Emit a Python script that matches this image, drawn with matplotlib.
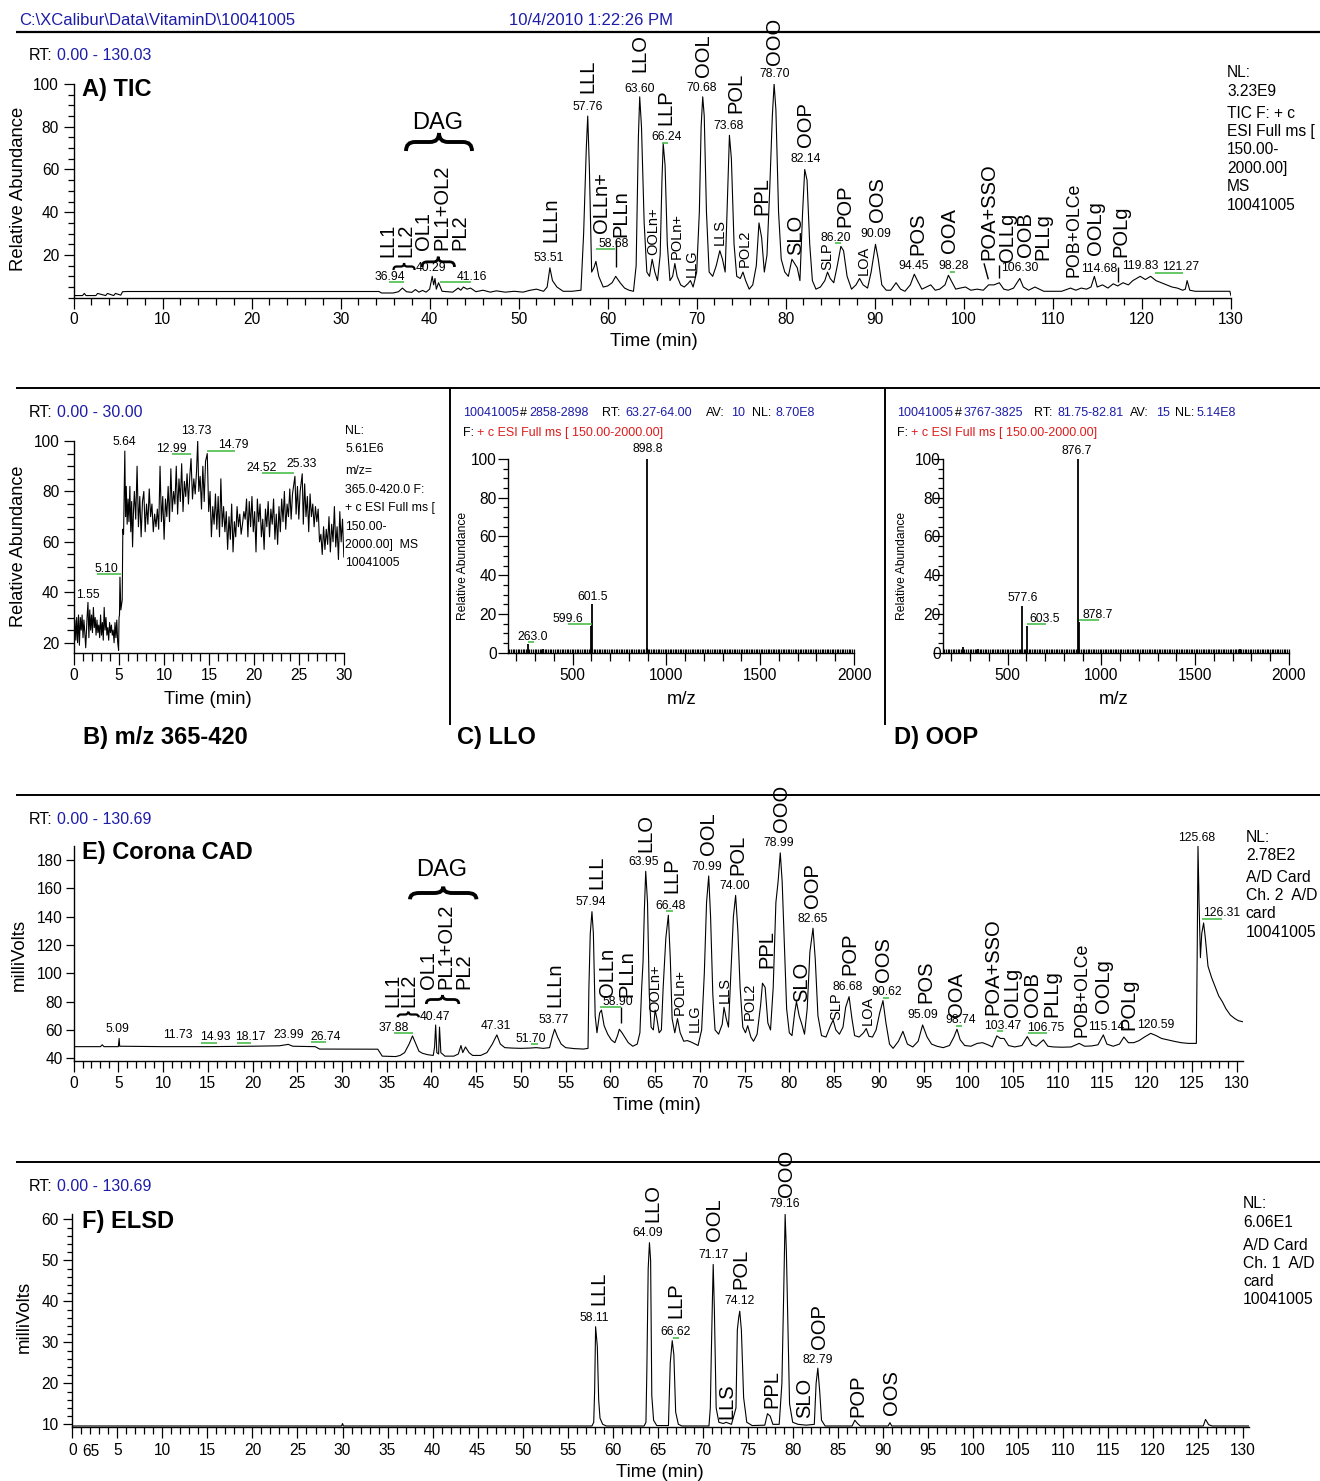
import matplotlib
matplotlib.use("Agg")
import matplotlib.pyplot as plt
from matplotlib.lines import Line2D
from matplotlib.path import Path
from matplotlib.patches import PathPatch
from matplotlib.ticker import MultipleLocator

plt.rcParams["font.family"] = ["Liberation Sans", "DejaVu Sans"]

W, H = 1320, 1481
BLUE = "#1c1ca8"
RED = "#dd1c1c"
GREEN = "#3cb83c"

# ---------------- data ----------------
# A) TIC chromatogram (time min, relative abundance)
tic_time = [0.0, 1.0, 1.2, 1.4, 2.5, 2.7, 3.6, 3.8, 4.5, 4.7,
            5.3, 5.5, 6.0, 34.3, 34.6, 35.9, 36.5, 36.94, 37.4, 38.0,
            38.4, 38.8, 39.2, 39.6, 40.0, 40.29, 40.45, 40.6, 40.75, 41.0,
            41.4, 42.0, 42.6, 43.2, 43.5, 43.8, 44.2, 44.6, 45.2, 46.0,
            46.8, 47.5, 48.5, 49.5, 50.5, 51.2, 52.0, 52.8, 53.2, 53.51,
            53.8, 54.3, 55.0, 56.0, 57.0, 57.3, 57.6, 57.76, 57.95, 58.2,
            58.45, 58.68, 59.0, 59.5, 60.0, 60.5, 60.9, 61.4, 61.9, 62.4,
            62.9, 63.2, 63.45, 63.6, 63.8, 64.1, 64.4, 64.7, 65.0, 65.3,
            65.6, 65.9, 66.1, 66.24, 66.45, 66.7, 67.0, 67.3, 67.55, 67.8,
            68.2, 68.6, 69.0, 69.3, 69.6, 70.0, 70.3, 70.5, 70.68, 70.85,
            71.1, 71.4, 71.8, 72.2, 72.6, 72.9, 73.2, 73.45, 73.68, 73.9,
            74.2, 74.5, 74.9, 75.2, 75.5, 75.9, 76.3, 76.7, 77.0, 77.3,
            77.6, 77.9, 78.2, 78.5, 78.7, 78.9, 79.2, 79.5, 79.9, 80.3,
            80.7, 81.0, 81.3, 81.6, 81.9, 82.14, 82.4, 82.7, 83.0, 83.4,
            83.9, 84.4, 84.7, 85.0, 85.4, 85.8, 86.2, 86.5, 86.9, 87.4,
            87.9, 88.3, 88.7, 89.2, 89.6, 90.09, 90.4, 90.8, 91.3, 91.8,
            92.4, 92.9, 93.4, 94.0, 94.45, 94.8, 95.3, 95.8, 96.3, 96.8,
            97.3, 97.9, 98.28, 98.6, 99.1, 99.6, 100.2, 100.8, 101.5, 102.2,
            102.8, 103.4, 104.0, 104.5, 105.0, 105.6, 106.3, 106.7, 107.3, 108.0,
            108.5, 109.0, 110.0, 111.0, 112.0, 112.6, 113.2, 113.8, 114.3, 114.68,
            115.0, 115.6, 116.2, 116.8, 117.3, 117.9, 118.5, 119.0, 119.83, 120.4,
            121.0, 121.6, 122.2, 122.8, 123.4, 124.0, 124.6, 124.9, 125.1, 125.4,
            126.0, 127.0, 128.0, 129.0, 129.9, 130.03]
tic_abund = [1.0, 1.0, 2.0, 1.0, 1.0, 2.0, 1.0, 2.0, 1.0, 2.0,
             1.2, 2.8, 2.9, 2.9, 2.2, 2.2, 2.8, 4.5, 2.8, 2.5,
             3.8, 2.6, 3.4, 2.6, 4.0, 10.0, 6.0, 9.0, 4.0, 7.0,
             3.0, 2.8, 2.6, 4.5, 3.5, 5.0, 4.0, 4.5, 2.8, 3.5,
             2.6, 3.2, 2.6, 3.0, 2.6, 3.4, 4.0, 3.0, 5.0, 14.0,
             8.0, 5.0, 3.0, 3.0, 3.5, 30.0, 70.0, 85.0, 60.0, 12.0,
             14.0, 17.0, 10.0, 5.0, 5.5, 7.0, 10.0, 7.0, 4.5, 3.5,
             3.0, 15.0, 75.0, 94.0, 80.0, 35.0, 12.0, 10.0, 18.0, 12.0,
             8.0, 20.0, 55.0, 72.0, 62.0, 25.0, 8.0, 10.0, 16.0, 10.0,
             6.0, 5.0, 6.5, 8.0, 5.0, 12.0, 40.0, 80.0, 94.0, 85.0,
             40.0, 12.0, 10.0, 15.0, 22.0, 18.0, 12.0, 45.0, 76.0, 65.0,
             25.0, 10.0, 9.0, 12.0, 8.0, 4.0, 6.0, 15.0, 35.0, 28.0,
             12.0, 20.0, 50.0, 85.0, 100.0, 88.0, 40.0, 18.0, 12.0, 10.0,
             18.0, 16.0, 14.0, 8.0, 40.0, 60.0, 55.0, 25.0, 8.0, 4.0,
             5.0, 8.0, 12.0, 9.0, 7.0, 15.0, 24.0, 22.0, 10.0, 4.0,
             6.0, 9.0, 6.0, 4.5, 12.0, 25.0, 18.0, 6.0, 3.5, 3.5,
             7.0, 4.0, 3.0, 6.0, 11.0, 8.0, 4.0, 5.0, 6.0, 3.5,
             4.0, 6.0, 10.5, 8.0, 4.0, 4.5, 5.0, 3.5, 4.0, 3.5,
             6.0, 6.0, 7.0, 4.0, 3.5, 4.5, 9.0, 5.0, 3.5, 5.0,
             4.0, 3.0, 3.0, 3.0, 4.5, 3.5, 4.5, 4.0, 5.0, 10.0,
             5.0, 6.0, 4.5, 6.5, 5.5, 7.0, 6.0, 8.0, 10.0, 8.5,
             10.0, 8.0, 7.0, 6.0, 5.0, 4.5, 3.5, 4.0, 8.0, 3.5,
             3.0, 3.0, 3.0, 3.0, 3.0, 1.0]

# B) extracted ion chromatogram m/z 365-420
xic_time = [0.0, 0.1, 0.2, 0.3, 0.4, 0.5, 0.6, 0.7, 0.8, 0.9,
            1.0, 1.1, 1.2, 1.3, 1.45, 1.55, 1.65, 1.75, 1.85, 1.95,
            2.05, 2.15, 2.25, 2.35, 2.45, 2.55, 2.65, 2.75, 2.85, 2.95,
            3.05, 3.15, 3.25, 3.35, 3.45, 3.55, 3.65, 3.75, 3.85, 3.95,
            4.05, 4.15, 4.25, 4.35, 4.45, 4.55, 4.65, 4.75, 4.85, 4.95,
            5.0, 5.05, 5.1, 5.2, 5.35, 5.42, 5.5, 5.64, 5.72, 5.8,
            5.9, 6.0, 6.1, 6.2, 6.3, 6.4, 6.5, 6.6, 6.7, 6.85,
            7.0, 7.15, 7.3, 7.45, 7.6, 7.75, 7.9, 8.05, 8.2, 8.35,
            8.5, 8.65, 8.8, 8.95, 9.1, 9.25, 9.4, 9.55, 9.7, 9.85,
            10.0, 10.15, 10.3, 10.45, 10.6, 10.75, 10.9, 11.05, 11.2, 11.35,
            11.5, 11.65, 11.8, 11.95, 12.1, 12.25, 12.4, 12.55, 12.7, 12.85,
            12.99, 13.15, 13.3, 13.45, 13.6, 13.73, 13.85, 14.0, 14.15, 14.3,
            14.45, 14.6, 14.79, 14.95, 15.1, 15.25, 15.4, 15.55, 15.7, 15.85,
            16.0, 16.15, 16.3, 16.45, 16.6, 16.75, 16.9, 17.05, 17.2, 17.35,
            17.5, 17.65, 17.8, 17.95, 18.1, 18.25, 18.4, 18.55, 18.7, 18.85,
            19.0, 19.15, 19.3, 19.45, 19.6, 19.75, 19.9, 20.05, 20.2, 20.35,
            20.5, 20.65, 20.8, 20.95, 21.1, 21.25, 21.4, 21.55, 21.7, 21.85,
            22.0, 22.15, 22.3, 22.45, 22.6, 22.75, 22.9, 23.05, 23.2, 23.35,
            23.5, 23.65, 23.8, 23.95, 24.1, 24.25, 24.52, 24.65, 24.8, 24.95,
            25.1, 25.33, 25.45, 25.6, 25.75, 25.9, 26.05, 26.2, 26.35, 26.5,
            26.65, 26.8, 26.95, 27.1, 27.25, 27.4, 27.55, 27.7, 27.85, 28.0,
            28.15, 28.3, 28.45, 28.6, 28.75, 28.9, 29.05, 29.2, 29.35, 29.5,
            29.65, 29.8, 29.95]
xic_abund = [17, 29, 21, 30, 20, 31, 19, 30, 25, 31,
             22, 29, 24, 18, 30, 36, 22, 33, 25, 31,
             24, 34, 26, 30, 23, 29, 24, 27, 22, 31,
             23, 28, 21, 34, 25, 30, 23, 26, 21, 28,
             24, 27, 23, 25, 20, 28, 22, 29, 20, 17,
             30, 31, 46, 33, 37, 65, 63, 96, 70, 82,
             67, 77, 68, 82, 64, 76, 58, 72, 80, 69,
             90, 66, 78, 62, 76, 80, 64, 75, 67, 81,
             70, 75, 64, 71, 66, 73, 65, 90, 68, 78,
             61, 77, 70, 82, 68, 89, 72, 80, 75, 90,
             71, 85, 76, 91, 72, 84, 78, 87, 75, 86,
             93, 77, 85, 79, 88, 100, 80, 86, 73, 90,
             76, 92, 95, 72, 80, 62, 74, 67, 79, 65,
             78, 62, 85, 66, 74, 64, 72, 57, 70, 61,
             75, 56, 68, 62, 74, 66, 71, 63, 67, 72,
             69, 77, 62, 76, 66, 78, 64, 72, 56, 77,
             68, 75, 62, 69, 57, 73, 66, 76, 62, 73,
             67, 77, 61, 71, 59, 74, 64, 77, 68, 80,
             65, 75, 70, 81, 69, 79, 86, 71, 82, 69,
             80, 87, 67, 83, 70, 78, 64, 79, 70, 75,
             66, 74, 68, 73, 60, 63, 55, 66, 57, 65,
             59, 70, 56, 67, 60, 74, 58, 66, 53, 72,
             60, 69, 54]

# C) and D) mass spectra (m/z, relative abundance)
llo_mz = [263.0, 340.0, 599.6, 601.5, 895.0, 898.8]
llo_int = [4.5, 2.0, 13.8, 25.0, 2.5, 100.0]
oop_mz = [263.0, 340.0, 577.6, 603.5, 876.7, 878.7, 1740.0]
oop_int = [3.0, 2.0, 24.0, 13.8, 100.0, 15.7, 2.0]

# E) Corona CAD trace (time min, mV)
cad_time = [0.0, 3.0, 3.2, 3.4, 5.0, 5.09, 5.15, 10.0, 15.0, 20.0,
            23.0, 23.99, 24.5, 27.0, 27.5, 34.0, 34.5, 36.0, 36.5, 37.0,
            37.5, 37.88, 38.2, 38.6, 39.0, 39.6, 40.2, 40.35, 40.47, 40.6,
            40.8, 40.9, 41.05, 41.5, 42.5, 43.0, 43.3, 43.5, 43.8, 44.2,
            44.6, 45.5, 46.2, 46.8, 47.31, 47.7, 48.2, 49.0, 50.0, 51.0,
            51.7, 52.5, 53.2, 53.5, 53.77, 54.1, 54.5, 55.0, 56.0, 57.0,
            57.5, 57.6, 57.75, 57.94, 58.1, 58.3, 58.5, 58.8, 59.0, 59.3,
            59.7, 60.1, 60.5, 60.8, 61.0, 61.3, 61.6, 62.0, 62.5, 63.0,
            63.3, 63.5, 63.65, 63.8, 63.95, 64.15, 64.35, 64.55, 64.8, 65.0,
            65.2, 65.45, 65.7, 65.9, 66.2, 66.48, 66.7, 66.9, 67.2, 67.5,
            67.8, 68.2, 68.6, 69.0, 69.5, 69.8, 70.2, 70.5, 70.75, 70.99,
            71.2, 71.45, 71.7, 72.1, 72.5, 72.7, 72.95, 73.2, 73.5, 73.75,
            74.0, 74.25, 74.5, 74.8, 75.1, 75.35, 75.7, 76.0, 76.4, 76.8,
            77.0, 77.3, 77.6, 77.9, 78.2, 78.5, 78.75, 78.99, 79.2, 79.45,
            79.7, 80.0, 80.3, 80.6, 80.8, 81.1, 81.4, 81.7, 82.0, 82.3,
            82.65, 82.9, 83.2, 83.6, 84.1, 84.6, 84.9, 85.2, 85.6, 86.0,
            86.3, 86.68, 87.0, 87.3, 87.8, 88.3, 88.6, 88.9, 89.3, 89.7,
            90.1, 90.47, 90.8, 91.2, 91.6, 92.2, 92.7, 93.2, 93.8, 94.4,
            94.9, 95.4, 95.9, 96.5, 97.2, 97.9, 98.4, 98.74, 99.1, 99.6,
            100.3, 101.0, 101.6, 102.2, 102.7, 103.2, 103.6, 104.0, 104.5, 105.2,
            106.0, 106.6, 107.1, 107.6, 108.4, 108.9, 109.5, 110.5, 111.5, 112.4,
            113.0, 113.8, 114.5, 115.1, 115.5, 116.2, 116.9, 117.4, 117.9, 118.5,
            119.1, 119.7, 120.4, 121.0, 121.6, 122.3, 123.0, 123.8, 124.6, 125.5,
            125.6, 125.68, 125.8, 125.95, 126.1, 126.31, 126.5, 126.8, 127.2, 127.6,
            128.0, 128.4, 128.8, 129.3, 129.8, 130.2, 130.69]
cad_mv = [48.2, 48.2, 49.5, 48.2, 48.2, 54.0, 48.5, 48.2, 48.2, 48.5,
          48.8, 49.8, 48.5, 48.2, 46.5, 46.4, 41.5, 41.2, 42.0, 44.0,
          50.0, 55.8, 51.0, 45.0, 43.5, 42.5, 42.0, 48.0, 63.5, 44.0,
          43.0, 62.0, 44.0, 41.5, 41.5, 43.0, 49.0, 44.0, 48.0, 44.0,
          42.0, 42.0, 44.0, 50.0, 56.5, 50.0, 47.5, 47.2, 47.0, 47.2,
          47.5, 47.0, 47.5, 55.0, 60.5, 55.0, 50.0, 47.5, 46.8, 46.5,
          47.0, 90.0, 128.0, 143.5, 128.0, 70.0, 58.0, 72.0, 74.0, 63.0,
          57.0, 53.0, 51.0, 56.0, 60.5, 58.0, 55.0, 51.0, 48.5, 50.0,
          58.0, 90.0, 108.0, 145.0, 172.0, 150.0, 85.0, 62.0, 60.0, 74.0,
          68.0, 58.0, 60.0, 90.0, 125.0, 141.0, 110.0, 68.0, 58.0, 68.0,
          58.0, 52.0, 52.5, 51.5, 50.0, 49.0, 60.0, 100.0, 150.0, 168.7,
          140.0, 85.0, 60.0, 57.0, 64.0, 76.0, 68.0, 62.0, 105.0, 140.0,
          155.0, 130.0, 90.0, 62.0, 58.0, 63.0, 55.0, 52.0, 57.0, 78.0,
          93.0, 90.0, 65.0, 60.0, 90.0, 150.0, 165.0, 185.0, 165.0, 120.0,
          75.0, 58.0, 56.0, 72.0, 80.0, 70.0, 64.0, 57.0, 75.0, 115.0,
          131.8, 110.0, 70.0, 56.0, 55.0, 63.0, 67.0, 60.0, 57.0, 62.0,
          76.0, 83.5, 68.0, 56.0, 55.0, 58.0, 61.0, 55.5, 55.0, 60.0,
          72.0, 80.7, 65.0, 50.0, 47.0, 52.0, 59.0, 50.0, 48.0, 52.0,
          63.5, 55.0, 50.0, 48.5, 47.5, 49.0, 55.0, 60.5, 53.0, 49.0,
          48.5, 50.5, 51.0, 49.5, 48.0, 55.8, 54.0, 54.0, 49.0, 48.0,
          49.0, 55.3, 50.0, 48.5, 53.0, 48.5, 48.0, 47.8, 48.0, 50.5,
          48.5, 48.7, 49.5, 56.5, 50.0, 48.5, 50.0, 55.0, 51.0, 51.0,
          52.5, 55.0, 57.6, 56.0, 54.0, 53.0, 52.0, 51.0, 50.5, 50.5,
          120.0, 190.0, 150.0, 111.0, 128.0, 135.5, 125.0, 105.0, 97.0, 90.5,
          84.0, 80.0, 75.0, 70.5, 68.0, 66.5, 65.8]

# F) ELSD trace (time min, mV)
elsd_time = [0.0, 29.9, 30.0, 30.1, 57.7, 57.9, 58.0, 58.11, 58.3, 58.45,
             58.6, 58.9, 59.3, 63.5, 63.7, 63.8, 63.95, 64.09, 64.22, 64.35,
             64.55, 64.9, 66.2, 66.4, 66.62, 66.8, 67.0, 67.3, 67.7, 70.7,
             70.85, 70.95, 71.08, 71.17, 71.3, 71.5, 71.8, 72.3, 72.6, 73.2,
             73.7, 73.85, 74.0, 74.12, 74.3, 74.55, 74.9, 75.5, 76.9, 77.2,
             77.5, 77.8, 78.5, 78.8, 79.0, 79.16, 79.3, 79.45, 79.65, 80.0,
             80.6, 81.5, 82.4, 82.6, 82.79, 83.0, 83.2, 83.6, 86.6, 86.9,
             87.2, 87.5, 90.6, 90.8, 91.0, 125.6, 125.85, 126.2, 126.6, 130.69]
elsd_mv = [9.6, 9.6, 10.2, 9.6, 9.6, 10.5, 18.0, 33.8, 29.0, 16.0,
           11.5, 10.0, 9.6, 9.6, 10.5, 23.0, 48.0, 54.3, 50.0, 17.0,
           11.0, 9.7, 9.7, 25.0, 30.4, 27.0, 13.0, 10.0, 9.6, 9.6,
           14.0, 26.0, 40.0, 49.0, 38.0, 14.0, 10.5, 10.2, 10.5, 10.0,
           14.0, 33.0, 36.0, 37.6, 33.0, 16.5, 10.5, 9.7, 9.8, 12.6,
           12.0, 10.0, 10.0, 20.0, 42.0, 61.2, 52.0, 36.0, 15.0, 10.5,
           10.0, 9.8, 10.0, 20.0, 23.7, 18.0, 11.0, 9.6, 9.6, 11.0,
           10.2, 9.6, 9.6, 10.4, 9.6, 9.6, 11.2, 9.9, 9.6, 9.6]

# ---------------- annotation layout (reference pixel coords) ----------------
L, M, S = 14.5, 12.8, 10.5
tic_names = [("LL1", 388, 257, L), ("LL2", 406, 257, L), ("OL1", 424, 250, L),
             ("PL1+OL2", 442, 250, L), ("PL2", 460, 250, L), ("LLLn", 550.5, 242, L),
             ("LLL", 588, 93, L), ("OLLn+", 602, 233, L), ("PLLn", 621, 237, L),
             ("LLO", 640, 72, L), ("OOLn+", 653.6, 255, S), ("LLP", 666, 125, L),
             ("POLn+", 677, 259, S), ("LLG", 691.5, 277, S), ("OOL", 704, 77, L),
             ("LLS", 720, 245, S), ("POL", 736, 113, L), ("POL2", 745, 267, S),
             ("PPL", 762, 215, L), ("OOO", 774.5, 65, L), ("SLO", 795.5, 255, L),
             ("OOP", 805, 147, L), ("SLP", 827.5, 270, S), ("POP", 845, 227, L),
             ("LOA", 864, 275, S), ("OOS", 877.6, 222, L), ("POS", 918, 255, L),
             ("OOA", 950, 253, L), ("POA+SSO", 989, 260, L), ("OLLg", 1007, 262, L),
             ("OOB", 1025, 257, L), ("PLLg", 1043, 260, L), ("POB+OLCe", 1073.5, 277, M),
             ("OOLg", 1095.6, 255, L), ("POLg", 1121, 257, L)]
tic_rt = [("36.94", 389.3, 276.7), ("40.29", 431.4, 267.7), ("41.16", 471.4, 276.7),
          ("53.51", 548.4, 257.7), ("57.76", 588, 106.7), ("58.68", 613.6, 244.3),
          ("63.60", 639.7, 89), ("66.24", 667, 136.7), ("70.68", 702, 88.3),
          ("73.68", 728.2, 126), ("78.70", 774.5, 74), ("82.14", 805.2, 159),
          ("86.20", 836, 237.7), ("90.09", 875.5, 234), ("94.45", 913.8, 265.7),
          ("98.28", 953.4, 265.7), ("106.30", 1019.8, 268.3), ("114.68", 1099, 268.5),
          ("119.83", 1139.8, 266), ("121.27", 1180.6, 267.3)]
tic_green = [(389.3, 404, 282.3), (439.8, 471.4, 282.3), (595.5, 614.5, 249.3),
             (662, 667.6, 142.7), (834.7, 841, 243.3), (949.6, 954.6, 271.7),
             (1154.5, 1183, 273.3)]
tic_nl = ["NL:", "3.23E9", "TIC F: + c", "ESI Full ms [", "150.00-", "2000.00]", "MS", "10041005"]
tic_nl_y = [72.7, 91.7, 114, 131.7, 150, 168.3, 186.7, 205.7]

xic_rt = [("1.55", 87.7, 595), ("5.10", 106.7, 569), ("5.64", 124.3, 442.3),
          ("12.99", 171.7, 449), ("13.73", 196.7, 431), ("14.79", 233.3, 445),
          ("24.52", 261.7, 468.3), ("25.33", 301.7, 464)]
xic_green = [(96.7, 120.7, 574.3), (171.7, 190.7, 454), (206.7, 235, 451), (262.3, 294.3, 473.3)]
xic_nl = ["NL:", "5.61E6", "m/z=", "365.0-420.0 F:", "+ c ESI Full ms [", "150.00-",
          "2000.00]  MS", "10041005"]
xic_nl_y = [430.7, 449, 470.7, 490, 508.3, 526.7, 545, 562.7]

cad_names = [("LL1", 392.7, 1006.7, L), ("LL2", 409, 1006.7, L), ("OL1", 428.5, 989, L),
             ("PL1+OL2", 446, 989, L), ("PL2", 464, 989, L), ("LLLn", 554.7, 1006.7, L),
             ("LLL", 596.8, 889, L), ("OLLn", 608, 997, L), ("PLLn", 627, 997, L),
             ("LLO", 646, 852, L), ("OOLn+", 655.3, 1011.7, S), ("LLP", 671.4, 893, L),
             ("POLn+", 679.8, 1015, S), ("LLG", 694.5, 1031.7, S), ("OOL", 708.4, 855, L),
             ("LLS", 725, 1003, S), ("POL", 737.9, 875, L), ("POL2", 749.6, 1020, S),
             ("PPL", 767.3, 968, L), ("OOO", 781, 831.7, L), ("SLO", 802, 1001.7, L),
             ("OOP", 812.4, 908, L), ("SLP", 836, 1020, S), ("POP", 850, 975, L),
             ("LOA", 867.5, 1025, S), ("OOS", 883, 981.7, L), ("POS", 926, 1003, L),
             ("OOA", 956.7, 1016.7, L), ("POA+SSO", 992.5, 1015, L), ("OLLg", 1012.7, 1016.7, L),
             ("OOB", 1032.5, 1016.7, L), ("PLLg", 1051.4, 1016.7, L), ("POB+OLCe", 1082, 1036.7, M),
             ("OOLg", 1104, 1013, L), ("POLg", 1129, 1030, L)]
cad_rt = [("5.09", 117.8, 1029), ("11.73", 178, 1035), ("14.93", 215.5, 1037),
          ("18.17", 250.4, 1037), ("23.99", 288.3, 1035), ("26.74", 326, 1037),
          ("37.88", 393.5, 1028), ("40.47", 434.8, 1017), ("47.31", 495.4, 1026),
          ("51.70", 531, 1039), ("53.77", 553.9, 1020), ("57.94", 590.5, 902),
          ("58.90", 617.8, 1001.7), ("63.95", 644, 862), ("66.48", 671, 906),
          ("70.99", 707, 867), ("74.00", 735, 886), ("78.99", 779, 842.7),
          ("82.65", 812.4, 919), ("86.68", 848, 987), ("90.62", 887, 992),
          ("95.09", 923, 1015), ("98.74", 961, 1020), ("103.47", 1003, 1026),
          ("106.75", 1046, 1028), ("115.14", 1106, 1027), ("120.59", 1156, 1025),
          ("125.68", 1196.6, 838), ("126.31", 1222, 913)]
cad_green = [(201, 217, 1042.7), (236.5, 251, 1042.7), (311, 326, 1042), (393.5, 412.5, 1033),
             (531, 538, 1044), (600, 621, 1007), (666, 673, 911), (883, 889, 998),
             (956, 962, 1026), (997, 1003, 1031), (1028, 1047, 1033), (1202, 1222, 919)]
cad_nl = ["NL:", "2.78E2", "A/D Card", "Ch. 2  A/D", "card", "10041005"]
cad_nl_y = [837.3, 855, 877.3, 895.7, 914, 932.3]

elsd_names = [("LLL", 598.5, 1305, L), ("LLO", 652.4, 1221.7, L), ("LLP", 676, 1318, L),
              ("OOL", 714.7, 1240.7, L), ("POL", 741.2, 1289, L), ("LLS", 727.3, 1419, L),
              ("PPL", 771.5, 1408, L), ("OOO", 786.3, 1196.7, L), ("SLO", 805, 1418, L),
              ("OOP", 819, 1349, L), ("POP", 857.8, 1416.7, L), ("OOS", 891.5, 1415, L)]
elsd_rt = [("58.11", 594.7, 1317.7), ("64.09", 647.3, 1232.7), ("66.62", 676, 1331.7),
           ("71.17", 713.5, 1255), ("74.12", 740, 1301), ("79.16", 785, 1204),
           ("82.79", 817.8, 1360)]
elsd_green = [(672.6, 679, 1338)]
elsd_nl = ["NL:", "6.06E1", "A/D Card", "Ch. 1  A/D", "card", "10041005"]
elsd_nl_y = [1203.3, 1222.7, 1245, 1263.3, 1281.7, 1300]

llo_rt = [("898.8", 647.3, 449), ("601.5", 592.3, 596.7), ("599.6", 567.7, 619), ("263.0", 532.7, 636.7)]
llo_green = [(528, 534, 642), (568, 592, 624)]
oop_rt = [("876.7", 1076.7, 450.7), ("577.6", 1022.3, 597.7), ("603.5", 1045, 619), ("878.7", 1097.3, 615)]
oop_green = [(1026.7, 1045.7, 624.3), (1079, 1099, 620)]

fig = plt.figure(figsize=(W / 100, H / 100), dpi=100)
fig.patch.set_facecolor("white")


def fx(x):
    return x / W


def fy(y):
    return 1 - y / H


def txt(x, y, s, **kw):
    kw.setdefault("ha", "left")
    kw.setdefault("va", "center")
    return fig.text(fx(x), fy(y), s, **kw)


def seg(xs, ys, color="black", lw=1.5):
    fig.add_artist(Line2D([fx(v) for v in xs], [fy(v) for v in ys], color=color, lw=lw,
                          transform=fig.transFigure, solid_capstyle="butt"))


def brace(x0, x1, ytop, ybot, lw):
    xc = (x0 + x1) / 2
    ym = (ytop + ybot) / 2
    r = min((x1 - x0) * 0.15, 9)
    pts = [(x0, ybot), (x0, ym), (x0 + r, ym), (xc - r, ym), (xc, ym), (xc, ytop),
           (xc, ym), (xc + r, ym), (x1 - r, ym), (x1, ym), (x1, ybot)]
    codes = [Path.MOVETO, Path.CURVE3, Path.CURVE3, Path.LINETO, Path.CURVE3, Path.CURVE3,
             Path.CURVE3, Path.CURVE3, Path.LINETO, Path.CURVE3, Path.CURVE3]
    path = Path([(fx(a), fy(b)) for a, b in pts], codes)
    fig.add_artist(PathPatch(path, fill=False, lw=lw, color="black", transform=fig.transFigure))


def axes_px(left, top, right, bottom):
    return fig.add_axes([fx(left), fy(bottom), (right - left) / W, (bottom - top) / H])


def style(ax, xmaj, xmin, ymaj, ymin, ypad, xpad=2.6):
    for side in ("top", "right"):
        ax.spines[side].set_visible(False)
    for side in ("left", "bottom"):
        ax.spines[side].set_linewidth(1.0)
    ax.patch.set_visible(False)
    ax.tick_params(which="both", direction="out", width=0.9, labelsize=11.2)
    ax.tick_params(axis="x", which="major", length=xmaj, pad=xpad)
    ax.tick_params(axis="x", which="minor", length=xmin)
    ax.tick_params(axis="y", which="major", length=ymaj, pad=ypad)
    ax.tick_params(axis="y", which="minor", length=ymin)


def annotate(names, rts, greens):
    for s, x, y, fs in names:
        txt(x, y, s, rotation=90, ha="center", va="bottom", fontsize=fs)
    for s, x, y in rts:
        txt(x, y, s, ha="center", fontsize=8.7)
    for x0, x1, y in greens:
        seg([x0, x1], [y, y], color=GREEN, lw=1.1)


def nl_block(lines, ys, x, fs):
    for s, y in zip(lines, ys):
        txt(x, y, s, fontsize=fs)


def rt_range(y, rng):
    txt(28.5, y, "RT:", fontsize=11.5)
    txt(57, y, rng, fontsize=11.5, color=BLUE)


# ---------------- header and frame lines ----------------
txt(19, 20.7, r"C:\XCalibur\Data\VitaminD\10041005", fontsize=12, color=BLUE)
txt(509, 20.7, "10/4/2010 1:22:26 PM", fontsize=12, color=BLUE)
seg([16, 1320], [31.7, 31.7], lw=1.6)
seg([16, 1320], [388, 388], lw=1.4)
seg([16, 1320], [795, 795], lw=1.4)
seg([16, 1320], [1162, 1162], lw=1.4)
seg([450, 450], [388, 725], lw=1.4)
seg([885, 885], [388, 725], lw=1.4)

# ---------------- A) TIC ----------------
axA = axes_px(73.6, 84, 1231, 297.7)
axA.plot(tic_time, tic_abund, color="black", lw=0.8)
axA.set_xlim(0, 130.03)
axA.set_ylim(0, 100)
axA.set_xticks(range(0, 131, 10))
axA.xaxis.set_minor_locator(MultipleLocator(2))
axA.set_yticks([20, 40, 60, 80, 100])
axA.yaxis.set_minor_locator(MultipleLocator(5))
style(axA, 7.9, 5.0, 7.2, 4.3, 3.3)
rt_range(55.7, "0.00 - 130.03")
txt(82, 89.3, "A) TIC", fontsize=17, fontweight="bold")
txt(18.5, 189, "Relative Abundance", rotation=90, ha="center", fontsize=13.3)
txt(654, 341.7, "Time (min)", ha="center", fontsize=13.3)
nl_block(tic_nl, tic_nl_y, 1227, 11.2)
txt(437.7, 122.7, "DAG", ha="center", fontsize=17)
brace(406, 472, 133, 151, 2.8)
brace(393.5, 414.6, 263, 270, 1.6)
brace(422, 454.5, 256.7, 267, 2.0)
annotate(tic_names, tic_rt, tic_green)
seg([615.7, 615.7], [240, 266.7], lw=1.0)
seg([984, 988.3], [263.3, 279.3], lw=1.0)
seg([998.8, 998.8], [265, 278.3], lw=1.0)
seg([1117.5, 1117.5], [266.7, 281.7], lw=1.0)

# ---------------- B) m/z 365-420 ----------------
axB = axes_px(74, 441, 344.3, 652.8)
axB.plot(xic_time, xic_abund, color="black", lw=0.8)
axB.set_xlim(0, 30)
axB.set_ylim(16, 100)
axB.set_xticks(range(0, 31, 5))
axB.xaxis.set_minor_locator(MultipleLocator(1))
axB.set_yticks([20, 40, 60, 80, 100])
axB.yaxis.set_minor_locator(MultipleLocator(5))
style(axB, 8.4, 6.0, 7.2, 5.2, 3.4)
rt_range(412.3, "0.00 - 30.00")
txt(82.7, 737.3, "B) m/z 365-420", fontsize=17, fontweight="bold")
txt(18.3, 546.7, "Relative Abundance", rotation=90, ha="center", fontsize=13.1)
txt(208.3, 700, "Time (min)", ha="center", fontsize=13.3)
nl_block(xic_nl, xic_nl_y, 345, 8.8)
for s, x, y in xic_rt:
    txt(x, y, s, ha="center", fontsize=8.8)
for x0, x1, y in xic_green:
    seg([x0, x1], [y, y], color=GREEN, lw=1.1)


# ---------------- C) and D) spectra ----------------
def spectrum_axes(left, mz, inten, ypad, head, line2_x, rts, greens, title_x, title, xl_x, yl_x):
    ax = axes_px(left, 459, left + 345.7, 652.7)
    ax.vlines(mz, 0, inten, color="black", lw=1.3)
    ax.set_xlim(157, 2000)
    ax.set_ylim(0, 100)
    ax.set_xticks([500, 1000, 1500, 2000])
    ax.xaxis.set_minor_locator(MultipleLocator(100))
    ax.set_yticks(range(0, 101, 20))
    ax.yaxis.set_minor_locator(MultipleLocator(5))
    style(ax, 8.6, 5.8, 7.2, 3.6, ypad)
    sec = ax.secondary_xaxis("bottom")
    sec.xaxis.set_major_locator(MultipleLocator(9))
    sec.tick_params(axis="x", direction="in", length=2.6, width=0.9, labelbottom=False)
    sec.spines["bottom"].set_visible(False)
    for s, x, c in head:
        txt(x, 413, s, fontsize=9, color=c)
    txt(line2_x[0], 432.7, "F:", fontsize=9)
    txt(line2_x[1], 432.7, "+ c ESI Full ms [ 150.00-2000.00]", fontsize=9, color=RED)
    for s, x, y in rts:
        txt(x, y, s, ha="center", fontsize=8.7)
    for x0, x1, y in greens:
        seg([x0, x1], [y, y], color=GREEN, lw=1.1)
    txt(title_x, 737.3, title, fontsize=17, fontweight="bold")
    txt(xl_x, 700, "m/z", ha="center", fontsize=13.3)
    txt(yl_x, 565.5, "Relative Abundance", rotation=90, ha="center", fontsize=8.7)
    return ax


llo_head = [("10041005", 463, BLUE), ("#", 520, "black"), ("2858-2898", 529, BLUE),
            ("RT:", 602, "black"), ("63.27-64.00", 625, BLUE), ("AV:", 706, "black"),
            ("10", 731, BLUE), ("NL:", 752, "black"), ("8.70E8", 775, BLUE)]
oop_head = [("10041005", 897, BLUE), ("#", 955, "black"), ("3767-3825", 964, BLUE),
            ("RT:", 1034, "black"), ("81.75-82.81", 1057, BLUE), ("AV:", 1130, "black"),
            ("15", 1156, BLUE), ("NL:", 1175, "black"), ("5.14E8", 1197, BLUE)]
spectrum_axes(508.3, llo_mz, llo_int, 1.2, llo_head, (463, 477), llo_rt, llo_green,
              456.7, "C) LLO", 681.7, 462.7)
spectrum_axes(943.3, oop_mz, oop_int, -5.5, oop_head, (897, 911), oop_rt, oop_green,
              894, "D) OOP", 1113.7, 901.7)

# ---------------- E) Corona CAD ----------------
axE = axes_px(73.6, 845.8, 1242.8, 1061.1)
axE.plot(cad_time, cad_mv, color="black", lw=0.8)
axE.set_xlim(0, 130.69)
axE.set_ylim(38, 190)
axE.set_xticks(range(0, 131, 5))
axE.xaxis.set_minor_locator(MultipleLocator(1))
axE.set_yticks(range(40, 181, 20))
style(axE, 7.9, 5.0, 6.0, 0, 1.7)
rt_range(820, "0.00 - 130.69")
txt(82, 852.7, "E) Corona CAD", fontsize=17, fontweight="bold")
txt(19, 955, "milliVolts", rotation=90, ha="center", fontsize=13.4)
txt(656.5, 1105, "Time (min)", ha="center", fontsize=13.3)
nl_block(cad_nl, cad_nl_y, 1245.8, 11.3)
txt(442, 870, "DAG", ha="center", fontsize=17)
brace(410, 476.4, 886.7, 899.3, 2.8)
brace(397.7, 418.8, 1011.7, 1017.3, 1.6)
brace(426.3, 458.8, 995, 1004, 2.0)
annotate(cad_names, cad_rt, cad_green)
seg([620.8, 620.8], [1006.7, 1023.3], lw=1.0)

# ---------------- F) ELSD ----------------
axF = axes_px(72.4, 1214.4, 1249.1, 1426.8)
axF.plot(elsd_time, elsd_mv, color="black", lw=0.8)
axF.set_xlim(0, 130.69)
axF.set_ylim(9.4, 61.2)
axF.set_xticks(range(0, 131, 5))
axF.xaxis.set_minor_locator(MultipleLocator(1))
axF.set_yticks(range(10, 61, 10))
axF.yaxis.set_minor_locator(MultipleLocator(2))
style(axF, 7.9, 5.0, 6.5, 3.6, 3.2, xpad=3.5)
rt_range(1186.7, "0.00 - 130.69")
txt(82, 1221.7, "F) ELSD", fontsize=17, fontweight="bold")
txt(24, 1316.7, "milliVolts", rotation=90, ha="center", fontsize=13.4)
txt(660, 1472.7, "Time (min)", ha="center", fontsize=13.3)
txt(90.5, 1451, "65", ha="center", fontsize=11.2)
nl_block(elsd_nl, elsd_nl_y, 1243, 11.3)
annotate(elsd_names, elsd_rt, elsd_green)

fig.savefig("out.png", dpi=100)
